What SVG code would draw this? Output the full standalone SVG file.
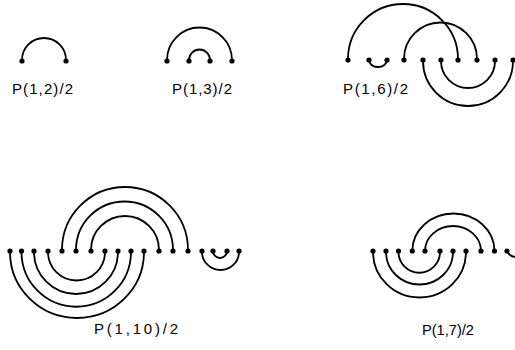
<svg xmlns="http://www.w3.org/2000/svg" width="515" height="350" viewBox="0 0 515 350">
<style>
.arc{fill:none;stroke:#000;stroke-width:1.8;stroke-linecap:round}
.dot{fill:#000}
.lbl{font-family:"Liberation Sans",Arial,sans-serif;font-size:15px;fill:#000}
</style>
<rect width="515" height="350" fill="#fff"/>
<g id="p12">
<path class="arc" d="M22 61 V60 A22 22 0 0 1 66 60 V61"/>
<g class="dot"><circle cx="22" cy="61" r="2.6"/><circle cx="66" cy="61" r="2.6"/></g>
<text class="lbl" x="12" y="94" textLength="61" lengthAdjust="spacing">P(1,2)/2</text>
</g>
<g id="p13">
<path class="arc" d="M167 61 V60 A32.5 32.5 0 0 1 232 60 V61"/>
<path class="arc" d="M189 61 V60 A10.5 10.5 0 0 1 210 60 V61"/>
<g class="dot"><circle cx="167" cy="61" r="2.6"/><circle cx="189" cy="61" r="2.6"/><circle cx="210" cy="61" r="2.6"/><circle cx="232" cy="61" r="2.6"/></g>
<text class="lbl" x="172" y="94" textLength="60" lengthAdjust="spacing">P(1,3)/2</text>
</g>
<g id="p16">
<path class="arc" d="M348 60 V59 A55 55 0 0 1 458 59 V60"/>
<path class="arc" d="M369 60 A9 7 0 0 0 387 60"/>
<path class="arc" d="M404 60 V59 A36.5 36.5 0 0 1 477 59 V60"/>
<path class="arc" d="M441 60 V61 A27 27 0 0 0 495 61 V60"/>
<path class="arc" d="M423 60 V61 A45 45 0 0 0 513 61 V60"/>
<g class="dot"><circle cx="348" cy="60" r="2.6"/><circle cx="369" cy="60" r="2.6"/><circle cx="387" cy="60" r="2.6"/><circle cx="404" cy="60" r="2.6"/><circle cx="423" cy="60" r="2.6"/><circle cx="441" cy="60" r="2.6"/><circle cx="458" cy="60" r="2.6"/><circle cx="477" cy="60" r="2.6"/><circle cx="495" cy="60" r="2.6"/><circle cx="513" cy="60" r="2.6"/></g>
<text class="lbl" x="343" y="94" textLength="65" lengthAdjust="spacing">P(1,6)/2</text>
</g>
<g id="p110">
<path class="arc" d="M62 251 V250 A63 63 0 0 1 188 250 V251"/>
<path class="arc" d="M76 251 V250 A48.5 48.5 0 0 1 173 250 V251"/>
<path class="arc" d="M91 251 V250 A34 34 0 0 1 159 250 V251"/>
<path class="arc" d="M48 251 V252 A28.5 28.5 0 0 0 105 252 V251"/>
<path class="arc" d="M34 251 V252 A42 42 0 0 0 118 252 V251"/>
<path class="arc" d="M21.5 251 V252 A54.75 54.75 0 0 0 131 252 V251"/>
<path class="arc" d="M10 251 V252 A67 66 0 0 0 144 252 V251"/>
<path class="arc" d="M202 251 V252 A18.5 18 0 0 0 239 252 V251"/>
<path class="arc" d="M213 251 A7 7 0 0 0 227 251"/>
<g class="dot"><circle cx="10" cy="251" r="2.6"/><circle cx="21.5" cy="251" r="2.6"/><circle cx="34" cy="251" r="2.6"/><circle cx="48" cy="251" r="2.6"/><circle cx="62" cy="251" r="2.6"/><circle cx="76" cy="251" r="2.6"/><circle cx="91" cy="251" r="2.6"/><circle cx="105" cy="251" r="2.6"/><circle cx="118" cy="251" r="2.6"/><circle cx="131" cy="251" r="2.6"/><circle cx="144" cy="251" r="2.6"/><circle cx="159" cy="251" r="2.6"/><circle cx="173" cy="251" r="2.6"/><circle cx="188" cy="251" r="2.6"/><circle cx="202" cy="251" r="2.6"/><circle cx="213" cy="251" r="2.6"/><circle cx="227" cy="251" r="2.6"/><circle cx="239" cy="251" r="2.6"/></g>
<text class="lbl" x="94" y="334" textLength="84" lengthAdjust="spacing">P(1,10)/2</text>
</g>
<g id="p17">
<path class="arc" d="M412.3 251 A41.1 37.5 0 0 1 494.5 251"/>
<path class="arc" d="M425 251 A28 25 0 0 1 481 251"/>
<path class="arc" d="M398.5 251 V252 A20.75 20.75 0 0 0 440 252 V251"/>
<path class="arc" d="M386 251 V252 A33.5 32.5 0 0 0 453 252 V251"/>
<path class="arc" d="M373 251 V252 A46.5 45.5 0 0 0 466 252 V251"/>
<path class="arc" d="M507 251 Q509 256 515 257"/>
<g class="dot"><circle cx="373" cy="251" r="2.6"/><circle cx="386" cy="251" r="2.6"/><circle cx="398.5" cy="251" r="2.6"/><circle cx="412.3" cy="251" r="2.6"/><circle cx="425" cy="251" r="2.6"/><circle cx="440" cy="251" r="2.6"/><circle cx="453" cy="251" r="2.6"/><circle cx="466" cy="251" r="2.6"/><circle cx="481" cy="251" r="2.6"/><circle cx="494.5" cy="251" r="2.6"/><circle cx="507" cy="251" r="2.6"/></g>
<text class="lbl" x="422" y="335" textLength="52" lengthAdjust="spacingAndGlyphs">P(1,7)/2</text>
</g>
</svg>
